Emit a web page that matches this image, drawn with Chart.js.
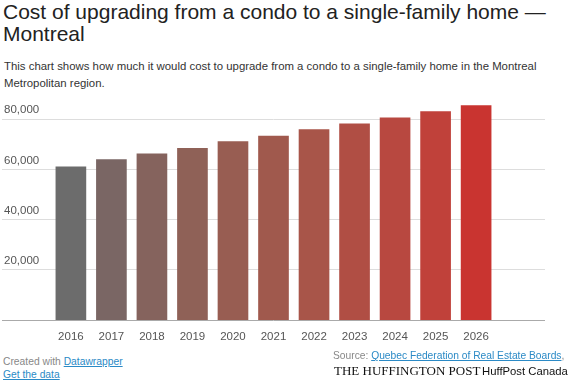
<!DOCTYPE html>
<html>
<head>
<meta charset="utf-8">
<script src="https://cdn.jsdelivr.net/npm/chart.js@4/dist/chart.umd.min.js"></script>
<style>
  html, body { margin: 0; padding: 0; background: #fff; }
  body { width: 570px; height: 380px; position: relative; overflow: hidden; font-family: "Liberation Sans", Arial, sans-serif; }
  #title { position: absolute; left: 3px; top: 1px; width: 570px; font-size: 21px; line-height: 22px; color: #222; white-space: nowrap; }
  #desc { position: absolute; left: 4px; top: 58px; width: 570px; font-size: 11.4px; line-height: 17px; color: #333; white-space: nowrap; }
  #wrap { position: absolute; left: 0; top: 89px; width: 570px; height: 265px; }
  #foot1 { position: absolute; left: 3px; top: 356px; font-size: 10.3px; line-height: 12.5px; color: #888; white-space: nowrap; }
  #foot1 a, #src a { color: #2b8ac6; text-decoration: underline; }
  #src { position: absolute; left: 333px; top: 350px; font-size: 10.25px; color: #888; white-space: nowrap; }
  #huff { position: absolute; left: 334px; top: 363px; font-family: "Liberation Serif", "Times New Roman", serif; font-size: 13px; color: #111; white-space: nowrap; }
  #hpc { position: absolute; left: 481px; top: 365px; font-size: 11.3px; color: #111; background: #fff; padding-left: 1px; padding-right: 4px; white-space: nowrap; }
</style>
</head>
<body>
<div id="title">Cost of upgrading from a condo to a single-family home —<br>Montreal</div>
<div id="desc">This chart shows how much it would cost to upgrade from a condo to a single-family home in the Montreal<br>Metropolitan region.</div>
<div id="wrap"><canvas id="c"></canvas></div>
<div id="foot1">Created with <a>Datawrapper</a><br><a>Get the data</a></div>
<div id="src">Source: <a>Quebec Federation of Real Estate Boards</a>,</div>
<div id="huff">THE HUFFINGTON POST</div>
<div id="hpc">HuffPost Canada</div>
<script>
const years = ["2016","2017","2018","2019","2020","2021","2022","2023","2024","2025","2026"];
const costs = [61100, 63900, 66200, 68400, 71100, 73300, 75900, 78200, 80600, 83100, 85400];
const yTicks = [0, 20000, 40000, 60000, 80000];
const barColors = ["#6c6c6c","#7a6664","#85635d","#8f6157","#985d52","#a0594d","#a85549","#b04e44","#b84840","#c0413a","#c93430"];

const ctx = document.getElementById('c');
new Chart(ctx, {
  type: 'bar',
  data: {
    datasets: [{
      data: years.map((y, i) => ({ x: Number(y), y: costs[i] })),
      backgroundColor: barColors,
      borderColor: barColors,
      borderWidth: 0,
      barThickness: 30
    }]
  },
  options: {
    responsive: true,
    maintainAspectRatio: false,
    animation: false,
    layout: { padding: { left: 2, right: 25, top: 0, bottom: 0 } },
    plugins: { legend: { display: false }, tooltip: { enabled: false } },
    scales: {
      x: {
        type: 'linear',
        min: 2014.3,
        max: 2027.7,
        offset: false,
        grid: { display: false, drawTicks: false },
        border: { display: false },
        afterBuildTicks: (axis) => { axis.ticks = years.map(y => ({ value: Number(y) })); },
        ticks: {
          autoSkip: false,
          maxRotation: 0,
          padding: 10,
          color: '#555',
          font: { family: '"Liberation Sans", Arial, sans-serif', size: 11.5 },
          callback: (v) => String(v)
        }
      },
      y: {
        min: 0,
        max: 88500,
        afterBuildTicks: (axis) => { axis.ticks = yTicks.map(v => ({ value: v })); },
        afterFit: (axis) => { axis.width = 0; },
        grid: {
          drawTicks: false,
          color: (c) => c.tick && c.tick.value === 0 ? '#aaaaaa' : '#dddddd',
          lineWidth: 1
        },
        border: { display: false },
        ticks: {
          mirror: true,
          padding: 2,
          labelOffset: -9,
          color: '#555',
          font: { family: '"Liberation Sans", Arial, sans-serif', size: 11.5 },
          callback: (v) => v === 0 ? '' : v.toLocaleString('en-US')
        }
      }
    }
  }
});
</script>
</body>
</html>
